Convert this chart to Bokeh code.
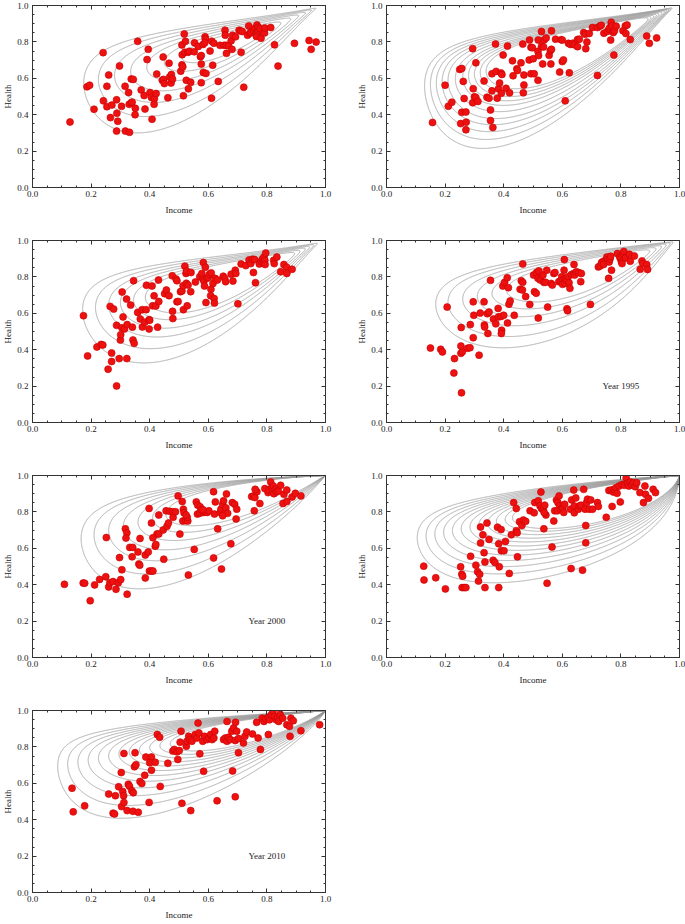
import numpy as np
from contourpy import contour_generator
from bokeh.plotting import figure
from bokeh.layouts import column, row
from bokeh.models import Range1d, LinearAxis, SingleIntervalTicker, FixedTicker, PrintfTickFormatter, Label
from bokeh.embed import file_html
from bokeh.resources import INLINE

FONT = "Liberation Serif"
INK = "#333333"

# ---------------- data: (income, health) per panel ----------------
P1_INCOME = [0.128,0.186,0.195,0.21,0.241,0.242,0.254,0.254,0.26,0.266,
             0.271,0.287,0.288,0.291,0.287,0.297,0.304,0.316,0.317,0.328,
             0.331,0.33,0.337,0.34,0.351,0.35,0.359,0.371,0.337,0.344,
             0.381,0.384,0.408,0.391,0.395,0.401,0.406,0.416,0.415,0.422,
             0.424,0.443,0.447,0.446,0.45,0.462,0.466,0.468,0.474,0.473,
             0.478,0.506,0.51,0.513,0.51,0.511,0.515,0.518,0.52,0.522,
             0.525,0.531,0.535,0.532,0.54,0.552,0.553,0.566,0.573,0.576,
             0.576,0.576,0.582,0.583,0.589,0.59,0.588,0.592,0.606,0.612,
             0.619,0.611,0.615,0.634,0.64,0.654,0.657,0.658,0.661,0.669,
             0.662,0.678,0.681,0.683,0.693,0.705,0.71,0.712,0.716,0.721,
             0.734,0.738,0.742,0.746,0.754,0.76,0.766,0.77,0.764,0.77,
             0.764,0.777,0.78,0.792,0.793,0.813,0.826,0.838,0.894,0.944,
             0.951,0.968]
P1_HEALTH = [0.36,0.553,0.562,0.43,0.741,0.476,0.556,0.444,0.618,0.384,
             0.453,0.482,0.408,0.364,0.31,0.668,0.446,0.556,0.31,0.522,
             0.303,0.457,0.466,0.469,0.435,0.40,0.803,0.536,0.596,0.594,
             0.505,0.431,0.375,0.703,0.759,0.522,0.495,0.487,0.457,0.516,
             0.623,0.589,0.594,0.717,0.571,0.493,0.683,0.607,0.621,0.574,
             0.596,0.639,0.674,0.663,0.783,0.73,0.504,0.844,0.743,0.803,
             0.589,0.743,0.748,0.542,0.578,0.746,0.795,0.775,0.719,0.725,
             0.678,0.576,0.786,0.632,0.828,0.815,0.795,0.627,0.75,0.804,
             0.793,0.491,0.672,0.583,0.781,0.781,0.864,0.837,0.781,0.779,
             0.737,0.806,0.759,0.837,0.828,0.864,0.86,0.743,0.857,0.551,
             0.837,0.888,0.848,0.853,0.862,0.875,0.893,0.88,0.85,0.855,
             0.83,0.873,0.82,0.85,0.877,0.879,0.784,0.667,0.792,0.808,
             0.759,0.799]

P2_POINTS = [(0.157,0.357),(0.2,0.562),(0.211,0.447),(0.223,0.469),(0.25,0.649),(0.257,0.654),(0.253,0.351),(0.257,0.413),(0.262,0.583),(0.265,0.489),(0.271,0.415),(0.272,0.359),(0.271,0.317),(0.294,0.763),(0.296,0.543),(0.294,0.466),(0.3,0.498),(0.305,0.495),(0.312,0.473),(0.305,0.685),(0.333,0.585),(0.343,0.496),(0.35,0.491),(0.355,0.426),(0.355,0.368),(0.36,0.625),(0.36,0.531),(0.363,0.33),(0.372,0.788),(0.374,0.638),(0.378,0.491),(0.382,0.542),(0.386,0.574),(0.391,0.629),(0.394,0.621),(0.392,0.518),(0.398,0.728),(0.413,0.777),(0.408,0.545),(0.42,0.52),(0.43,0.696),(0.432,0.614),(0.445,0.652),(0.447,0.643),(0.459,0.685),(0.465,0.788),(0.469,0.618),(0.469,0.563),(0.467,0.52),(0.487,0.701),(0.488,0.81),(0.493,0.77),(0.498,0.768),(0.493,0.625),(0.504,0.625),(0.501,0.708),(0.517,0.748),(0.517,0.589),(0.518,0.81),(0.519,0.725),(0.529,0.857),(0.529,0.775),(0.536,0.772),(0.533,0.679),(0.538,0.81),(0.545,0.822),(0.555,0.726),(0.559,0.752),(0.563,0.759),(0.561,0.679),(0.563,0.861),(0.577,0.815),(0.591,0.634),(0.596,0.812),(0.6,0.81),(0.6,0.692),(0.604,0.701),(0.61,0.476),(0.621,0.792),(0.628,0.786),(0.636,0.793),(0.641,0.784),(0.624,0.63),(0.652,0.813),(0.658,0.815),(0.652,0.774),(0.673,0.851),(0.678,0.842),(0.68,0.763),(0.684,0.799),(0.692,0.846),(0.703,0.879),(0.72,0.879),(0.72,0.616),(0.729,0.888),(0.733,0.891),(0.742,0.848),(0.753,0.857),(0.759,0.87),(0.762,0.879),(0.767,0.908),(0.77,0.888),(0.765,0.81),(0.774,0.851),(0.778,0.861),(0.776,0.728),(0.784,0.886),(0.807,0.861),(0.815,0.888),(0.821,0.893),(0.817,0.846),(0.832,0.813),(0.888,0.832),(0.897,0.792),(0.922,0.822)]

P3_POINTS = [(0.174,0.587),(0.188,0.366),(0.22,0.415),(0.234,0.429),(0.24,0.426),(0.258,0.293),(0.287,0.201),(0.265,0.638),(0.277,0.623),(0.27,0.382),(0.27,0.335),(0.287,0.534),(0.306,0.717),(0.321,0.678),(0.3,0.453),(0.301,0.482),(0.309,0.58),(0.305,0.52),(0.314,0.514),(0.323,0.538),(0.296,0.351),(0.322,0.351),(0.335,0.645),(0.341,0.524),(0.343,0.453),(0.347,0.435),(0.345,0.779),(0.359,0.605),(0.368,0.569),(0.374,0.62),(0.388,0.62),(0.375,0.525),(0.383,0.551),(0.389,0.754),(0.398,0.565),(0.4,0.562),(0.398,0.514),(0.408,0.75),(0.41,0.641),(0.421,0.64),(0.415,0.696),(0.427,0.524),(0.43,0.783),(0.431,0.665),(0.451,0.708),(0.457,0.728),(0.466,0.697),(0.477,0.806),(0.479,0.571),(0.478,0.611),(0.49,0.788),(0.493,0.779),(0.493,0.663),(0.497,0.665),(0.505,0.719),(0.51,0.723),(0.514,0.752),(0.515,0.62),(0.52,0.859),(0.525,0.765),(0.524,0.819),(0.526,0.832),(0.528,0.641),(0.531,0.755),(0.541,0.824),(0.54,0.719),(0.556,0.772),(0.571,0.801),(0.578,0.819),(0.583,0.879),(0.582,0.788),(0.585,0.777),(0.587,0.75),(0.59,0.853),(0.592,0.659),(0.596,0.792),(0.599,0.797),(0.604,0.815),(0.61,0.822),(0.609,0.732),(0.608,0.697),(0.616,0.764),(0.62,0.681),(0.621,0.656),(0.623,0.792),(0.631,0.783),(0.651,0.804),(0.656,0.792),(0.659,0.774),(0.678,0.815),(0.684,0.777),(0.692,0.837),(0.694,0.819),(0.701,0.652),(0.712,0.871),(0.728,0.862),(0.739,0.893),(0.745,0.873),(0.754,0.824),(0.761,0.768),(0.751,0.897),(0.758,0.895),(0.774,0.871),(0.78,0.886),(0.785,0.899),(0.79,0.909),(0.788,0.879),(0.793,0.891),(0.796,0.931),(0.794,0.868),(0.823,0.891),(0.825,0.873),(0.834,0.909),(0.847,0.828),(0.858,0.868),(0.867,0.853),(0.868,0.819),(0.886,0.842)]

P4_POINTS = [(0.15,0.409),(0.185,0.402),(0.191,0.388),(0.207,0.634),(0.232,0.351),(0.23,0.272),(0.256,0.163),(0.254,0.38),(0.259,0.389),(0.254,0.42),(0.255,0.522),(0.277,0.408),(0.285,0.411),(0.286,0.538),(0.296,0.663),(0.296,0.466),(0.298,0.589),(0.316,0.37),(0.32,0.601),(0.333,0.663),(0.334,0.536),(0.335,0.525),(0.344,0.598),(0.35,0.607),(0.346,0.489),(0.355,0.781),(0.365,0.569),(0.373,0.542),(0.381,0.627),(0.382,0.58),(0.391,0.583),(0.4,0.589),(0.393,0.507),(0.392,0.489),(0.397,0.75),(0.403,0.77),(0.413,0.547),(0.412,0.795),(0.418,0.65),(0.422,0.668),(0.416,0.741),(0.436,0.589),(0.456,0.732),(0.464,0.728),(0.46,0.779),(0.465,0.77),(0.465,0.871),(0.475,0.692),(0.489,0.649),(0.502,0.81),(0.512,0.824),(0.52,0.833),(0.505,0.719),(0.511,0.71),(0.517,0.792),(0.525,0.783),(0.534,0.81),(0.518,0.574),(0.537,0.77),(0.543,0.77),(0.547,0.837),(0.55,0.634),(0.562,0.764),(0.566,0.755),(0.571,0.819),(0.575,0.824),(0.588,0.774),(0.594,0.779),(0.598,0.801),(0.603,0.783),(0.607,0.895),(0.606,0.837),(0.601,0.759),(0.609,0.764),(0.611,0.792),(0.615,0.783),(0.62,0.801),(0.616,0.625),(0.618,0.614),(0.623,0.768),(0.626,0.737),(0.631,0.813),(0.64,0.868),(0.639,0.819),(0.642,0.81),(0.648,0.828),(0.656,0.824),(0.663,0.774),(0.665,0.819),(0.696,0.649),(0.723,0.855),(0.73,0.861),(0.734,0.879),(0.74,0.886),(0.749,0.891),(0.752,0.909),(0.741,0.868),(0.755,0.895),(0.76,0.882),(0.763,0.899),(0.765,0.913),(0.758,0.792),(0.768,0.837),(0.788,0.928),(0.796,0.909),(0.799,0.899),(0.802,0.882),(0.808,0.928),(0.81,0.94),(0.816,0.904),(0.804,0.873),(0.829,0.924),(0.832,0.886),(0.846,0.915),(0.866,0.842),(0.872,0.888),(0.875,0.873),(0.888,0.868),(0.891,0.841)]

P5_POINTS = [(0.109,0.402),(0.173,0.409),(0.178,0.408),(0.197,0.312),(0.212,0.399),(0.229,0.429),(0.25,0.444),(0.252,0.659),(0.26,0.388),(0.264,0.411),(0.275,0.417),(0.285,0.375),(0.293,0.411),(0.301,0.428),(0.297,0.549),(0.305,0.482),(0.323,0.348),(0.317,0.707),(0.322,0.685),(0.319,0.656),(0.332,0.605),(0.342,0.605),(0.34,0.553),(0.36,0.58),(0.363,0.514),(0.366,0.507),(0.367,0.654),(0.385,0.437),(0.385,0.563),(0.395,0.58),(0.398,0.819),(0.399,0.475),(0.406,0.475),(0.411,0.475),(0.406,0.739),(0.411,0.658),(0.419,0.611),(0.421,0.621),(0.425,0.679),(0.431,0.679),(0.431,0.783),(0.448,0.54),(0.446,0.701),(0.456,0.806),(0.468,0.803),(0.478,0.801),(0.459,0.721),(0.464,0.739),(0.48,0.77),(0.488,0.801),(0.497,0.888),(0.503,0.678),(0.511,0.857),(0.515,0.815),(0.517,0.795),(0.513,0.75),(0.523,0.752),(0.53,0.75),(0.528,0.77),(0.524,0.783),(0.532,0.453),(0.552,0.594),(0.559,0.855),(0.564,0.837),(0.572,0.828),(0.563,0.788),(0.571,0.793),(0.583,0.797),(0.589,0.801),(0.596,0.797),(0.602,0.806),(0.576,0.812),(0.582,0.812),(0.618,0.547),(0.645,0.486),(0.618,0.911),(0.621,0.788),(0.624,0.855),(0.632,0.707),(0.641,0.797),(0.643,0.815),(0.649,0.842),(0.652,0.861),(0.657,0.797),(0.66,0.822),(0.662,0.899),(0.666,0.792),(0.649,0.779),(0.677,0.625),(0.682,0.851),(0.69,0.842),(0.697,0.815),(0.695,0.761),(0.748,0.884),(0.755,0.888),(0.759,0.879),(0.766,0.911),(0.76,0.924),(0.757,0.806),(0.776,0.846),(0.793,0.928),(0.804,0.906),(0.807,0.92),(0.813,0.964),(0.816,0.933),(0.819,0.918),(0.822,0.942),(0.824,0.9),(0.829,0.924),(0.833,0.91),(0.839,0.915),(0.847,0.946),(0.855,0.846),(0.858,0.897),(0.868,0.92),(0.868,0.857),(0.886,0.882),(0.897,0.902),(0.916,0.888)]

P6_POINTS = [(0.127,0.502),(0.128,0.426),(0.168,0.438),(0.201,0.377),(0.253,0.498),(0.257,0.458),(0.26,0.447),(0.258,0.384),(0.265,0.384),(0.271,0.384),(0.287,0.556),(0.305,0.507),(0.311,0.471),(0.314,0.42),(0.318,0.457),(0.321,0.717),(0.321,0.629),(0.329,0.674),(0.333,0.576),(0.336,0.525),(0.336,0.384),(0.343,0.739),(0.35,0.649),(0.364,0.534),(0.37,0.522),(0.379,0.716),(0.383,0.625),(0.385,0.498),(0.383,0.384),(0.391,0.703),(0.392,0.587),(0.401,0.587),(0.406,0.638),(0.419,0.462),(0.426,0.674),(0.434,0.851),(0.443,0.819),(0.443,0.697),(0.446,0.685),(0.447,0.553),(0.454,0.746),(0.462,0.725),(0.467,0.755),(0.475,0.748),(0.49,0.806),(0.504,0.795),(0.506,0.851),(0.518,0.861),(0.527,0.909),(0.524,0.833),(0.529,0.819),(0.535,0.812),(0.54,0.837),(0.544,0.783),(0.538,0.797),(0.537,0.707),(0.548,0.408),(0.565,0.607),(0.571,0.75),(0.574,0.806),(0.58,0.866),(0.585,0.851),(0.591,0.833),(0.589,0.888),(0.583,0.806),(0.596,0.815),(0.602,0.819),(0.605,0.797),(0.608,0.842),(0.628,0.815),(0.632,0.866),(0.639,0.92),(0.641,0.833),(0.641,0.795),(0.63,0.489),(0.646,0.877),(0.655,0.815),(0.659,0.833),(0.664,0.837),(0.669,0.48),(0.673,0.924),(0.678,0.815),(0.683,0.851),(0.68,0.725),(0.68,0.63),(0.686,0.87),(0.692,0.815),(0.697,0.866),(0.703,0.815),(0.72,0.851),(0.723,0.83),(0.75,0.77),(0.759,0.918),(0.767,0.92),(0.774,0.909),(0.778,0.924),(0.783,0.933),(0.787,0.902),(0.794,0.942),(0.77,0.83),(0.798,0.855),(0.804,0.951),(0.812,0.946),(0.818,0.987),(0.823,0.957),(0.827,0.942),(0.832,0.964),(0.837,0.949),(0.843,0.96),(0.849,0.938),(0.854,0.96),(0.865,0.906),(0.877,0.851),(0.882,0.942),(0.884,0.897),(0.894,0.875),(0.91,0.924),(0.918,0.906)]

P7_POINTS = [(0.135,0.573),(0.139,0.443),(0.178,0.476),(0.26,0.541),(0.283,0.532),(0.294,0.581),(0.275,0.436),(0.28,0.432),(0.304,0.472),(0.303,0.659),(0.308,0.555),(0.311,0.532),(0.312,0.495),(0.312,0.764),(0.323,0.45),(0.327,0.595),(0.331,0.584),(0.339,0.559),(0.344,0.548),(0.343,0.446),(0.348,0.691),(0.353,0.702),(0.35,0.768),(0.361,0.441),(0.367,0.61),(0.373,0.599),(0.383,0.644),(0.387,0.744),(0.406,0.744),(0.406,0.672),(0.4,0.713),(0.398,0.495),(0.419,0.715),(0.426,0.868),(0.434,0.853),(0.436,0.583),(0.462,0.71),(0.479,0.777),(0.484,0.786),(0.493,0.773),(0.501,0.78),(0.496,0.731),(0.504,0.826),(0.507,0.886),(0.51,0.49),(0.525,0.804),(0.527,0.831),(0.533,0.858),(0.537,0.84),(0.544,0.831),(0.54,0.45),(0.555,0.868),(0.561,0.849),(0.568,0.877),(0.565,0.931),(0.571,0.762),(0.581,0.831),(0.587,0.858),(0.584,0.666),(0.596,0.84),(0.602,0.849),(0.608,0.868),(0.613,0.84),(0.619,0.849),(0.622,0.886),(0.63,0.504),(0.652,0.84),(0.658,0.849),(0.664,0.831),(0.669,0.853),(0.675,0.84),(0.68,0.886),(0.686,0.904),(0.692,0.835),(0.697,0.886),(0.703,0.846),(0.664,0.94),(0.683,0.668),(0.692,0.526),(0.693,0.935),(0.703,0.768),(0.72,0.822),(0.725,0.858),(0.731,0.882),(0.751,0.871),(0.765,0.935),(0.77,0.849),(0.778,0.786),(0.784,0.958),(0.79,0.94),(0.796,0.955),(0.804,0.962),(0.809,0.949),(0.815,0.976),(0.821,0.998),(0.826,0.967),(0.832,0.949),(0.837,0.962),(0.84,0.94),(0.845,0.98),(0.854,0.958),(0.805,0.868),(0.868,0.922),(0.877,0.913),(0.879,0.858),(0.882,0.958),(0.89,0.944),(0.916,0.889),(0.98,0.922)]

# ---------------- density contour model per panel ----------------
# levels are given by the income at the left (blunt) end of each contour
P1_LEVELS = [0.175, 0.225, 0.28, 0.335, 0.39, 0.45, 0.51]
P2_LEVELS = [0.13, 0.15, 0.17, 0.19, 0.21, 0.235, 0.26, 0.28, 0.30, 0.32, 0.34]
P3_LEVELS = [0.171, 0.215, 0.26, 0.30, 0.345, 0.385]
P4_LEVELS = [0.168, 0.21, 0.26, 0.31, 0.36, 0.41]
P5_LEVELS = [0.166, 0.21, 0.26, 0.31, 0.36, 0.41, 0.455]
P6_LEVELS = [0.105, 0.135, 0.165, 0.195, 0.225, 0.255, 0.285, 0.315, 0.345, 0.375, 0.405, 0.43]
P7_LEVELS = [0.086, 0.12, 0.155, 0.19, 0.225, 0.26, 0.295, 0.33, 0.365, 0.40, 0.435, 0.47]

# (decay b, midline coefficients m, width coefficients w)
P1_SHAPE = (0.893, (0.72, 0.686, 0.09), (0.62, 0.0))
P2_SHAPE = (0.925, (0.72, 0.69, 0.07), (0.60, 0.0))
P3_SHAPE = (0.869, (0.85, 0.60, 0.085), (0.65, 0.0))
P4_SHAPE = (0.834, (0.93, 0.65, 0.08), (0.55, 0.13))
P5_SHAPE = (0.30, (0.85, 1.15, 0.0), (0.65, 0.10))
P6_SHAPE = (0.30, (0.98, 0.85, 0.0), (0.45, 0.15))
P7_SHAPE = (0.30, (1.10, 0.95, 0.0), (0.55, 0.05))

MAJOR_TICKS = [0.0, 0.2, 0.4, 0.6, 0.8, 1.0]
MINOR_TICKS = [round(0.05 * i, 2) for i in range(21)]


def contour_lines(levels, shape):
    b, m, w = shape
    g = np.linspace(0.0005, 0.9995, 801)
    X, Y = np.meshgrid(g, g)
    P = -np.log1p(-X)
    Q = -np.log1p(-Y)
    M = m[0] + m[1] * P + m[2] * P * P
    W = w[0] + w[1] * P
    Z = np.log(P) - b * P - (Q - M) ** 2 / (2 * W * W)
    gen = contour_generator(g, g, Z)
    xs, ys = [], []
    for xb in levels:
        pb = -np.log1p(-xb)
        for seg in gen.lines(np.log(pb) - b * pb):
            xs.append(seg[:, 0].tolist())
            ys.append(seg[:, 1].tolist())
    return xs, ys


def style_axis(ax):
    ax.ticker = SingleIntervalTicker(interval=0.2, num_minor_ticks=4)
    ax.formatter = PrintfTickFormatter(format="%.1f")
    ax.axis_line_color = INK
    ax.major_tick_line_color = INK
    ax.minor_tick_line_color = INK
    ax.major_tick_in = 4
    ax.major_tick_out = 0
    ax.minor_tick_in = 2
    ax.minor_tick_out = 0
    ax.major_label_text_font = FONT
    ax.major_label_text_font_size = "9px"
    ax.major_label_text_color = "#222222"
    ax.axis_label_text_font = FONT
    ax.axis_label_text_font_size = "9px"
    ax.axis_label_text_font_style = "normal"
    ax.axis_label_text_color = "#222222"


def mirror_axis(ticks, length):
    # label-free axis: only inward tick marks on the top / right frame edge
    ax = LinearAxis(ticker=FixedTicker(ticks=[], minor_ticks=ticks))
    ax.axis_line_color = INK
    ax.minor_tick_line_color = INK
    ax.minor_tick_in = length
    ax.minor_tick_out = 0
    ax.major_tick_in = 0
    ax.major_tick_out = 0
    ax.major_label_standoff = 0
    ax.axis_label_standoff = 0
    return ax


def panel(xs_pts, ys_pts, levels, shape, year=None, right=29, top=5, bottom=48):
    p = figure(frame_width=293, frame_height=182,
               x_range=Range1d(0, 1), y_range=Range1d(0, 1),
               output_backend="svg", toolbar_location=None,
               min_border_left=28, min_border_right=right,
               min_border_top=top, min_border_bottom=bottom)
    p.grid.visible = False
    p.outline_line_color = INK
    cx, cy = contour_lines(levels, shape)
    p.multi_line(cx, cy, line_color="#9c9c9c", line_width=0.8)
    p.scatter(xs_pts, ys_pts, size=7, fill_color="#ee1111", line_color="#c80000", line_width=0.6)

    xa = p.xaxis[0]
    ya = p.yaxis[0]
    style_axis(xa)
    style_axis(ya)
    xa.axis_label = "Income"
    ya.axis_label = "Health"
    xa.major_label_standoff = 3
    xa.axis_label_standoff = 5
    ya.major_label_standoff = 4
    ya.axis_label_standoff = 1

    for loc in ("above", "right"):
        p.add_layout(mirror_axis(MINOR_TICKS, 2), loc)
        p.add_layout(mirror_axis(MAJOR_TICKS, 4), loc)

    if year:
        p.add_layout(Label(x=0.8, y=0.2, text=year, text_align="center", text_baseline="middle",
                           text_font=FONT, text_font_size="9px", text_color="#222222"))
    return p


def unzip(points):
    return [a for a, _ in points], [b for _, b in points]


p1 = panel(P1_INCOME, P1_HEALTH, P1_LEVELS, P1_SHAPE)
p2 = panel(*unzip(P2_POINTS), P2_LEVELS, P2_SHAPE, right=8)
p3 = panel(*unzip(P3_POINTS), P3_LEVELS, P3_SHAPE)
p4 = panel(*unzip(P4_POINTS), P4_LEVELS, P4_SHAPE, year="Year 1995", right=8)
p5 = panel(*unzip(P5_POINTS), P5_LEVELS, P5_SHAPE, year="Year 2000")
p6 = panel(*unzip(P6_POINTS), P6_LEVELS, P6_SHAPE, right=8)
p7 = panel(*unzip(P7_POINTS), P7_LEVELS, P7_SHAPE, year="Year 2010", bottom=26)

layout = column(row(p1, p2), row(p3, p4), row(p5, p6), p7)

open("out.html", "w").write(file_html(layout, INLINE, title="Income and Health"))
